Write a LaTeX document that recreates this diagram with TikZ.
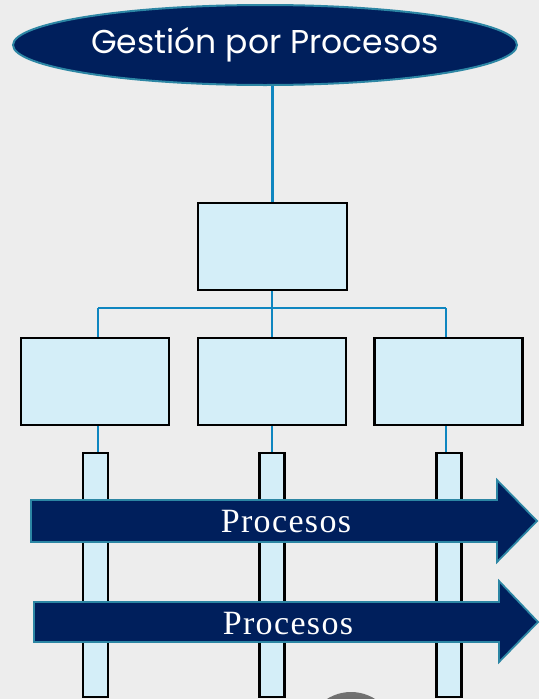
\documentclass[tikz,border=0pt]{standalone}
\usepackage{fontspec}
\setmainfont{Liberation Serif}
\newfontfamily\titlefont{Poppins}
\newfontfamily\procfont[LetterSpace=4]{Liberation Serif}
\usetikzlibrary{shapes.geometric}
\definecolor{navy}{HTML}{001F5C}
\definecolor{tealedge}{HTML}{2C86A4}
\definecolor{linkblue}{HTML}{0F86C0}
\definecolor{boxfill}{HTML}{D4EEF8}
\definecolor{bgcol}{HTML}{EDEDED}
\tikzset{
  unitbox/.style={draw=black, line width=2.3pt, fill=boxfill, inner sep=0pt},
  link/.style={draw=linkblue, line width=2.4pt},
  flow/.style={fill=navy, draw=tealedge, line width=1.8pt, line join=miter},
  flowtext/.style={text=white, font=\procfont\fontsize{34}{34}\selectfont, inner sep=0pt},
}
\begin{document}
\begin{tikzpicture}[x=1pt,y=-1pt]
  \useasboundingbox (0,0) rectangle (539,699);
  \fill[bgcol] (0,0) rectangle (539,699);

  % emblem peeking in at the lower edge
  \begin{scope}
    \clip (0,0) rectangle (539,699);
    \shade[top color=black!55, bottom color=black!80] (351,737) circle (45);
  \end{scope}

  % title
  \node[ellipse, fill=navy, draw=tealedge, line width=2pt,
        minimum width=504pt, minimum height=80pt, inner sep=0pt,
        text=white, font=\titlefont\fontsize{33}{33}\selectfont] (title) at (265,45) {Gestión por Procesos};

  % hierarchy boxes
  \node[unitbox, minimum width=149pt, minimum height=87pt] (top) at (272.5,246.5) {};
  \node[unitbox, minimum width=148pt, minimum height=87pt] (box1) at (95,381.5) {};
  \node[unitbox, minimum width=148pt, minimum height=87pt] (box2) at (272,381.5) {};
  \node[unitbox, minimum width=148pt, minimum height=87pt] (box3) at (448.5,381.5) {};

  % process columns
  \node[unitbox, minimum width=25pt, minimum height=244pt] (bar1) at (95.8,575) {};
  \node[unitbox, minimum width=25pt, minimum height=244pt] (bar2) at (272,575) {};
  \node[unitbox, minimum width=25pt, minimum height=244pt] (bar3) at (449,575) {};

  % connectors
  \coordinate (c1) at (98,308);
  \coordinate (c2) at (272,308);
  \coordinate (c3) at (446,308);
  \draw[link] (title.south -| top.north) -- (top.north);
  \draw[link] (top.south -| c2) -- (c2);
  \draw[link] (c1) -- (c3);
  \draw[link] (c1) -- (c1 |- box1.north);
  \draw[link] (c2) -- (c2 |- box2.north);
  \draw[link] (c3) -- (c3 |- box3.north);
  \draw[link] (box1.south -| c1) -- (c1 |- bar1.north);
  \draw[link] (box2.south -| c2) -- (c2 |- bar2.north);
  \draw[link] (box3.south -| c3) -- (c3 |- bar3.north);

  % process arrows
  \draw[flow] (31,500) -- (497,500) -- (497,480) -- (537,521) -- (497,562)
              -- (497,542) -- (31,542) -- cycle;
  \node[flowtext] (proc1) at (286,522) {Procesos};
  \draw[flow] (34,602) -- (499,602) -- (499,581) -- (538,622) -- (499,662)
              -- (499,642) -- (34,642) -- cycle;
  \node[flowtext] (proc2) at (288,624) {Procesos};
\end{tikzpicture}
\end{document}
